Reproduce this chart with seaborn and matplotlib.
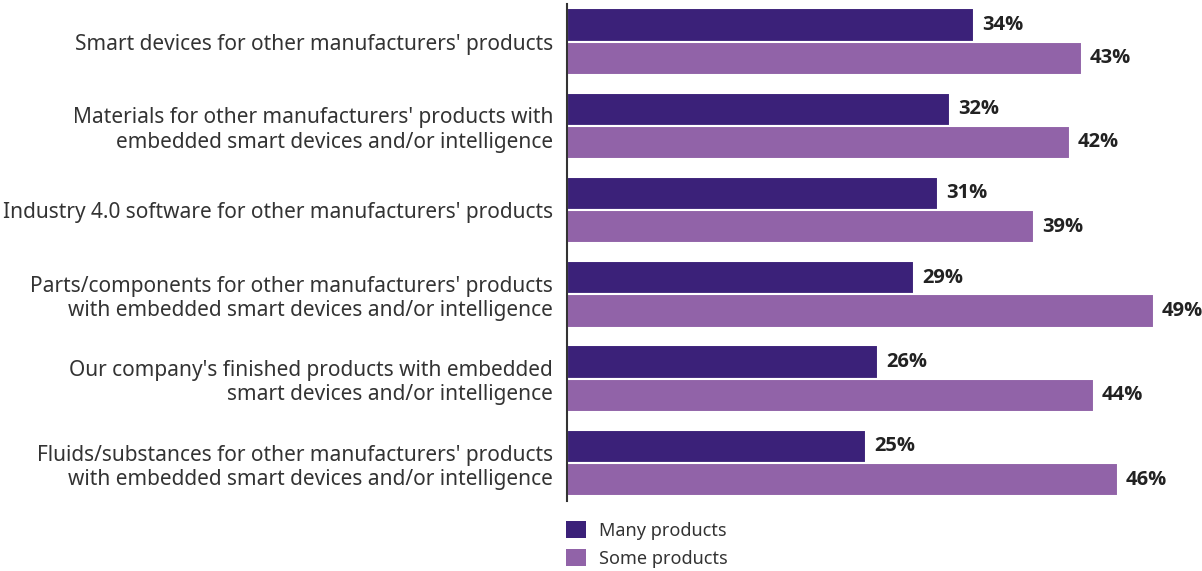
import matplotlib
matplotlib.use("Agg")
import matplotlib.pyplot as plt
import seaborn as sns
import pandas as pd
from matplotlib.patches import Patch

categories = [
    "Smart devices for other manufacturers' products",
    "Materials for other manufacturers' products with\nembedded smart devices and/or intelligence",
    "Industry 4.0 software for other manufacturers' products",
    "Parts/components for other manufacturers' products\nwith embedded smart devices and/or intelligence",
    "Our company's finished products with embedded\nsmart devices and/or intelligence",
    "Fluids/substances for other manufacturers' products\nwith embedded smart devices and/or intelligence",
]
series_names = ["Many products", "Some products"]
many_products = [34, 32, 31, 29, 26, 25]
some_products = [43, 42, 39, 49, 44, 46]
colors = ["#3b2179", "#9163a8"]

df = pd.DataFrame({
    "category": categories * 2,
    "series": [series_names[0]] * len(categories) + [series_names[1]] * len(categories),
    "value": many_products + some_products,
})

sns.set_theme(style="white")
plt.rcParams["font.family"] = ["Noto Sans", "DejaVu Sans"]

fig = plt.figure(figsize=(12.02, 5.71), dpi=100)
ax = fig.add_axes([0.4717, 0.1226, 0.5283, 0.8711])

sns.barplot(
    data=df, y="category", x="value", hue="series", order=categories,
    hue_order=series_names, palette=colors, orient="h", width=0.79,
    edgecolor="white", linewidth=1.5, ax=ax, legend=False, saturation=1,
)

for container in ax.containers:
    ax.bar_label(container, labels=[f"{v:.0f}%" for v in container.datavalues],
                 padding=6, fontsize=14.5, fontweight="bold", color="#222222",
                 fontstretch="normal", family=["Open Sans", "DejaVu Sans"],
                 clip_on=False)

ax.set_xlim(0, 53.05)
ax.set_ylim(5.45, -0.45)
ax.set_xlabel("")
ax.set_ylabel("")
ax.set_xticks([])
ax.tick_params(axis="y", length=0, pad=10, labelsize=15, labelcolor="#333333")
for lbl in ax.get_yticklabels():
    lbl.set_horizontalalignment("right")
    lbl.set_multialignment("right")
    lbl.set_linespacing(1.2)

for side in ["top", "right", "bottom"]:
    ax.spines[side].set_visible(False)
ax.spines["left"].set_color("#333333")
ax.spines["left"].set_linewidth(1.5)

handles = [Patch(facecolor=c, edgecolor="none", label=n) for c, n in zip(colors, series_names)]
fig.legend(handles=handles, loc="upper left", bbox_to_anchor=(0.4705, 0.088),
           frameon=False, fontsize=13, handlelength=1.15, handleheight=1.12,
           handletextpad=0.7, labelspacing=0.5, labelcolor="#333333",
           borderaxespad=0, borderpad=0)

fig.savefig("out.png", dpi=100)
